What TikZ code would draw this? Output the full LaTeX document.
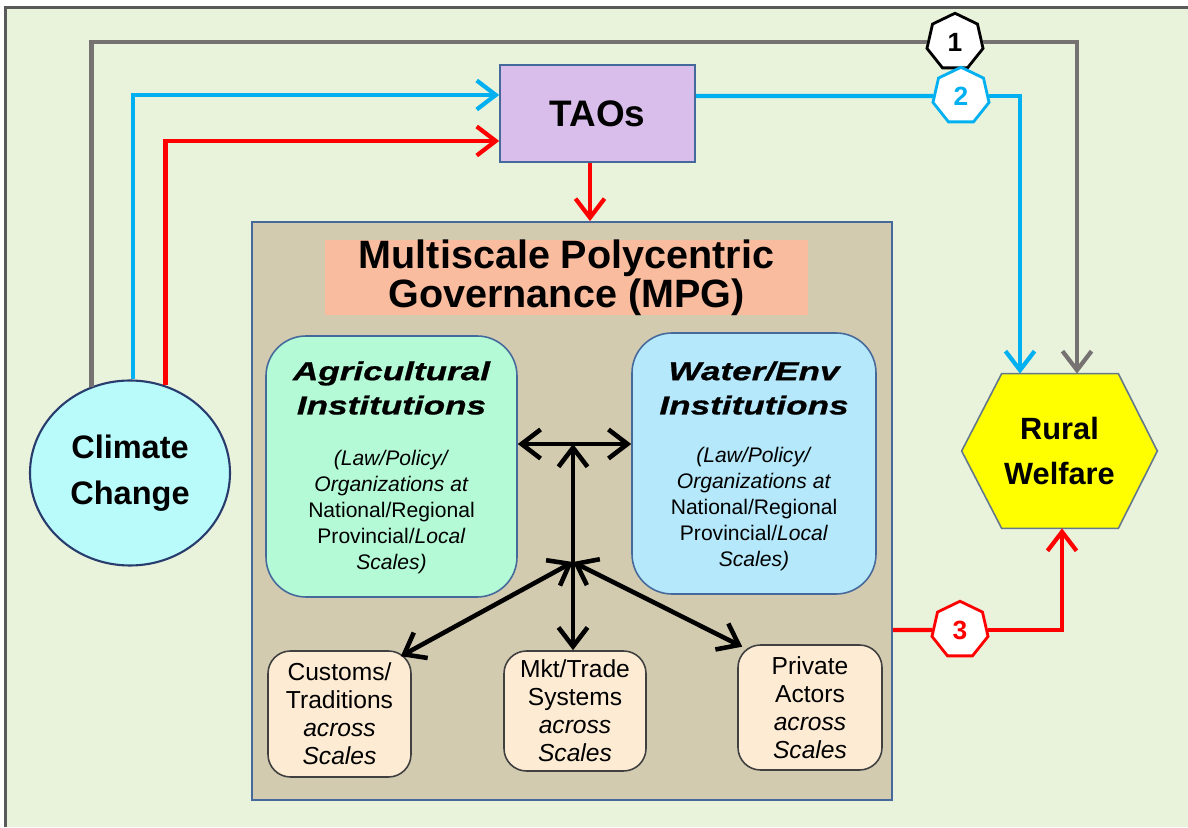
\documentclass[tikz,border=0pt]{standalone}
\usepackage{fontspec}
\setmainfont{Liberation Sans}
\newfontfamily\widesans[FakeStretch=1.35,FakeBold=0.8]{Liberation Sans}
\usetikzlibrary{arrows.meta,calc,shapes.geometric,backgrounds}
\definecolor{paneback}{RGB}{233,242,219}
\definecolor{framegray}{RGB}{90,90,90}
\definecolor{flowgray}{RGB}{118,114,114}
\definecolor{flowblue}{RGB}{0,176,240}
\definecolor{flowred}{RGB}{255,0,0}
\definecolor{edgeblue}{RGB}{70,105,155}
\definecolor{taosfill}{RGB}{217,190,236}
\definecolor{mpgfill}{RGB}{210,203,176}
\definecolor{bannerfill}{RGB}{250,188,158}
\definecolor{agrifill}{RGB}{180,250,214}
\definecolor{waterfill}{RGB}{180,232,250}
\definecolor{actorfill}{RGB}{253,235,212}
\definecolor{climatefill}{RGB}{185,250,250}
\definecolor{climateedge}{RGB}{40,60,110}
\definecolor{ruralfill}{RGB}{255,255,0}
\definecolor{ruraledge}{RGB}{100,120,140}

\begin{document}
\begin{tikzpicture}[
  >={Straight Barb[length=3.8mm,width=5.8mm]},
  boxfont/.style={font=\fontsize{21}{24}\selectfont\bfseries},
  institution/.style={rounded corners=0.8cm, draw=edgeblue, line width=0.9pt,
                      minimum height=5.22cm},
  insttitle/.style={align=center,
                    font=\widesans\fontsize{14.8}{19.5}\selectfont\bfseries\itshape},
  instnote/.style={align=center, font=\fontsize{12}{14.8}\selectfont},
  actor/.style={rounded corners=0.45cm, draw=black!75, line width=0.9pt,
                fill=actorfill, align=center, inner sep=0pt,
                font=\fontsize{14}{16}\selectfont},
  badge/.style={regular polygon, regular polygon sides=7, minimum size=1.15cm,
                inner sep=0pt, fill=white, line width=1.6pt,
                font=\fontsize{15}{15}\selectfont\bfseries},
  greyflow/.style={draw=flowgray, line width=2.4pt},
  blueflow/.style={draw=flowblue, line width=2.4pt},
  redflow/.style={draw=flowred, line width=2.4pt},
  govflow/.style={draw=black, line width=2.6pt},
]
\useasboundingbox (0,0) rectangle (23.76,16.54);

% -------------------------------------------------------------------------
% Panel background
% -------------------------------------------------------------------------
\begin{pgfonlayer}{background}
  \fill[white] (0,0) rectangle (23.76,16.54);
  \fill[paneback] (0.12,0) rectangle (23.76,16.38);
  \draw[framegray, line width=0.06cm] (0.12,0) -- (0.12,16.38) -- (23.76,16.38);
\end{pgfonlayer}

% -------------------------------------------------------------------------
% Drivers and outcome
% -------------------------------------------------------------------------
\node[ellipse, draw=climateedge, fill=climatefill, line width=1.2pt,
      minimum width=4.0cm, minimum height=3.7cm, align=center,
      font=\fontsize{18.5}{26}\selectfont\bfseries]
  (climate) at (2.60,7.08) {Climate\\Change};

\node[boxfont, draw=edgeblue, fill=taosfill, line width=0.9pt,
      minimum width=3.9cm, minimum height=1.94cm]
  (taos) at (11.95,14.27) {TAOs};

\node[minimum width=3.9cm, minimum height=3.08cm, align=center,
      font=\fontsize{17.5}{25.6}\selectfont\bfseries]
  (rural) at (21.19,7.52) {Rural\\Welfare};
\begin{pgfonlayer}{background}
  \filldraw[fill=ruralfill, draw=ruraledge, line width=0.9pt]
    (rural.west) -- ($(rural.north west)+(0.80,0)$)
    -- ($(rural.north east)+(-0.78,0)$) -- (rural.east)
    -- ($(rural.south east)+(-0.78,0)$) -- ($(rural.south west)+(0.80,0)$)
    -- cycle;
\end{pgfonlayer}

% -------------------------------------------------------------------------
% Multiscale polycentric governance
% -------------------------------------------------------------------------
\node[draw=edgeblue, fill=mpgfill, line width=1pt,
      minimum width=12.8cm, minimum height=11.56cm]
  (mpg) at (11.44,6.32) {};
\node[fill=bannerfill, minimum width=9.66cm, minimum height=1.5cm,
      inner sep=0pt, align=center,
      font=\fontsize{22.5}{19.5}\selectfont\bfseries]
  (banner) at (11.33,10.99) {Multiscale Polycentric\\Governance (MPG)};

\node[institution, fill=agrifill, minimum width=5.02cm]
  (agri) at (7.83,7.21) {};
\node[insttitle] at ($(agri.center)+(0,1.57)$) {Agricultural\\Institutions};
\node[instnote] at ($(agri.center)+(0,-0.91)$)
  {\textit{(Law/Policy/}\\\textit{Organizations at}\\National/Regional\\
   Provincial/\textit{Local}\\\textit{Scales)}};

\node[institution, fill=waterfill, minimum width=4.88cm]
  (water) at (15.08,7.27) {};
\node[insttitle] at ($(water.center)+(0,1.51)$) {Water/Env\\Institutions};
\node[instnote] at ($(water.center)+(0,-0.91)$)
  {\textit{(Law/Policy/}\\\textit{Organizations at}\\National/Regional\\
   Provincial/\textit{Local}\\\textit{Scales)}};

\node[actor, minimum width=2.86cm, minimum height=2.52cm]
  (customs) at (6.79,2.26) {Customs/\\Traditions\\\textit{across}\\\textit{Scales}};
\node[actor, minimum width=2.84cm, minimum height=2.40cm]
  (mkt) at (11.50,2.32) {Mkt/Trade\\Systems\\\textit{across}\\\textit{Scales}};
\node[actor, minimum width=2.88cm, minimum height=2.50cm]
  (private) at (16.20,2.39) {Private\\Actors\\\textit{across}\\\textit{Scales}};

\coordinate (link) at (11.46,7.66);
\coordinate (hub) at (11.46,5.30);
\draw[govflow, <->] (agri.east |- link) -- (water.west |- link);
\draw[govflow, <->] (link) -- (link |- mkt.north);
\draw[govflow, <->] (hub) -- ($(customs.north east)+(-0.22,-0.12)$);
\draw[govflow, <->] (hub) -- ($(private.north west)+(0.10,-0.05)$);

% -------------------------------------------------------------------------
% Pathways 1--3
% -------------------------------------------------------------------------
\node[badge, draw=black] (one) at (19.10,15.70) {1};
\node[badge, draw=flowblue, text=flowblue] (two) at (19.22,14.62) {2};
\node[badge, draw=flowred, text=flowred] (three) at (19.20,3.94) {3};

\draw[greyflow] (climate.114) |- (one);
\draw[greyflow, ->] (one) -| ($(rural.north)+(0.35,0)$);

\draw[blueflow, ->] (climate.88) |- ($(taos.west)+(0,0.37)$);
\draw[blueflow] (taos.east |- two) -- (two);
\draw[blueflow, ->] (two) -| ($(rural.north)+(-0.79,0)$);

\draw[redflow, ->] (climate.68) |- ($(taos.west)+(0,-0.55)$);
\draw[redflow, ->] ($(taos.south)+(-0.15,0)$) -- ($(taos.south |- mpg.north)+(-0.15,0)$);
\draw[redflow] (mpg.east |- three) -- (three);
\draw[redflow, ->] (three) -| ($(rural.south)+(0.05,0)$);

\end{tikzpicture}
\end{document}
